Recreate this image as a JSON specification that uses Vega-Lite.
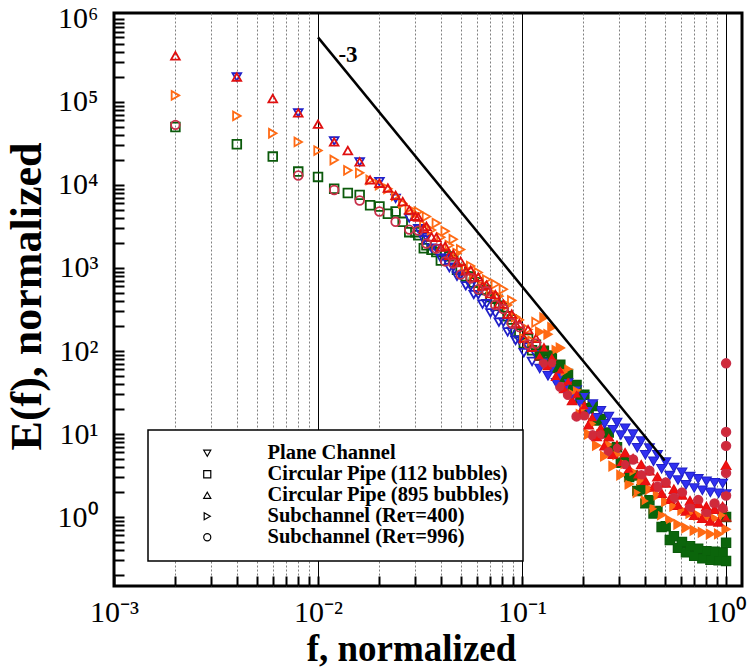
{
"$schema": "https://vega.github.io/schema/vega-lite/v6.json",
"width": 628, "height": 573,
"autosize": {"type": "none"},
"padding": {"left": 114, "top": 13, "right": 5, "bottom": 86},
"background": "white",
"config": {"view": {"stroke": "black", "strokeWidth": 3}, "legend": {"strokeWidth": 1.5}},
"datasets": {"pts": [
{"k":"CP1","f":0.002,"E":50000},{"k":"CP1","f":0.004,"E":31000},{"k":"CP1","f":0.006,"E":22000},{"k":"CP1","f":0.008,"E":14500},{"k":"CP1","f":0.01,"E":12500},{"k":"CP1","f":0.012,"E":9000},{"k":"CP1","f":0.014,"E":8000},{"k":"CP1","f":0.016,"E":7600},{"k":"CP1","f":0.018,"E":5700},{"k":"CP1","f":0.02,"E":5500},{"k":"CP1","f":0.022,"E":4500},{"k":"CP1","f":0.024,"E":4800},{"k":"CP1","f":0.026,"E":3600},{"k":"CP1","f":0.028,"E":2700},{"k":"CP1","f":0.03,"E":2700},
{"k":"CP1","f":0.031,"E":2480},{"k":"CP1","f":0.033,"E":1730},{"k":"CP1","f":0.034,"E":1880},{"k":"CP1","f":0.036,"E":1660},{"k":"CP1","f":0.038,"E":1560},{"k":"CP1","f":0.04,"E":1230},{"k":"CP1","f":0.042,"E":1440},{"k":"CP1","f":0.044,"E":1380},{"k":"CP1","f":0.046,"E":1250},{"k":"CP1","f":0.048,"E":952},{"k":"CP1","f":0.05,"E":971},{"k":"CP1","f":0.053,"E":792},{"k":"CP1","f":0.056,"E":788},{"k":"CP1","f":0.058,"E":668},{"k":"CP1","f":0.061,"E":669},{"k":"CP1","f":0.064,"E":546},{"k":"CP1","f":0.067,"E":542},{"k":"CP1","f":0.07,"E":446},{"k":"CP1","f":0.074,"E":427},{"k":"CP1","f":0.077,"E":350},{"k":"CP1","f":0.081,"E":336},{"k":"CP1","f":0.085,"E":262},{"k":"CP1","f":0.089,"E":240},{"k":"CP1","f":0.093,"E":170},{"k":"CP1","f":0.097,"E":163},
{"k":"CP1","f":0.102,"E":124},{"k":"CP1","f":0.107,"E":141},{"k":"CP1","f":0.112,"E":102},{"k":"CP1","f":0.117,"E":119},{"k":"CP1","f":0.122,"E":87.5},{"k":"CP1","f":0.128,"E":101},{"k":"CP1","f":0.134,"E":74.6},{"k":"CP1","f":0.14,"E":88.5},{"k":"CP1","f":0.147,"E":62.5},{"k":"CP1","f":0.154,"E":68.3},{"k":"CP1","f":0.161,"E":47.8},{"k":"CP1","f":0.168,"E":52.9},{"k":"CP1","f":0.176,"E":36.3},{"k":"CP1","f":0.185,"E":39.1},{"k":"CP1","f":0.193,"E":27.2},{"k":"CP1","f":0.202,"E":29.7},{"k":"CP1","f":0.212,"E":20.4},{"k":"CP1","f":0.222,"E":21.7},{"k":"CP1","f":0.232,"E":14.5},{"k":"CP1","f":0.243,"E":15.2},{"k":"CP1","f":0.254,"E":10.2},{"k":"CP1","f":0.266,"E":10.4},{"k":"CP1","f":0.279,"E":6.7},{"k":"CP1","f":0.292,"E":6.94},{"k":"CP1","f":0.305,"E":4.51},{"k":"CP1","f":0.32,"E":4.61},{"k":"CP1","f":0.335,"E":3.03},{"k":"CP1","f":0.35,"E":3.16},{"k":"CP1","f":0.367,"E":2.06},{"k":"CP1","f":0.384,"E":2.16},{"k":"CP1","f":0.402,"E":1.46},{"k":"CP1","f":0.421,"E":1.59},{"k":"CP1","f":0.441,"E":1.1},{"k":"CP1","f":0.461,"E":1.18},{"k":"CP1","f":0.483,"E":0.759},{"k":"CP1","f":0.506,"E":0.773},{"k":"CP1","f":0.53,"E":0.529},{"k":"CP1","f":0.555,"E":0.587},{"k":"CP1","f":0.581,"E":0.425},{"k":"CP1","f":0.608,"E":0.501},{"k":"CP1","f":0.636,"E":0.376},{"k":"CP1","f":0.666,"E":0.444},{"k":"CP1","f":0.698,"E":0.341},{"k":"CP1","f":0.73,"E":0.414},{"k":"CP1","f":0.765,"E":0.318},{"k":"CP1","f":0.801,"E":0.388},{"k":"CP1","f":0.838,"E":0.306},{"k":"CP1","f":0.878,"E":0.381},{"k":"CP1","f":0.919,"E":0.301},{"k":"CP1","f":0.962,"E":0.374},{"k":"CP1","f":1.0,"E":0.296},{"k":"CP1","f":1.0,"E":0.49},{"k":"CP1","f":1.0,"E":1.0},
{"k":"PC","f":0.004,"E":200000},{"k":"PC","f":0.008,"E":74000},{"k":"PC","f":0.012,"E":34000},{"k":"PC","f":0.016,"E":19000},{"k":"PC","f":0.02,"E":11000},{"k":"PC","f":0.024,"E":6900},{"k":"PC","f":0.028,"E":4000},
{"k":"PC","f":0.031,"E":2970},{"k":"PC","f":0.033,"E":2190},{"k":"PC","f":0.034,"E":2320},{"k":"PC","f":0.036,"E":1740},{"k":"PC","f":0.038,"E":1710},{"k":"PC","f":0.04,"E":1310},{"k":"PC","f":0.042,"E":1305},{"k":"PC","f":0.044,"E":1010},{"k":"PC","f":0.046,"E":1022},{"k":"PC","f":0.048,"E":797},{"k":"PC","f":0.05,"E":817},{"k":"PC","f":0.053,"E":610},{"k":"PC","f":0.056,"E":601},{"k":"PC","f":0.058,"E":479},{"k":"PC","f":0.061,"E":478},{"k":"PC","f":0.064,"E":367},{"k":"PC","f":0.067,"E":371},{"k":"PC","f":0.07,"E":288},{"k":"PC","f":0.074,"E":284},{"k":"PC","f":0.077,"E":223},{"k":"PC","f":0.081,"E":223},{"k":"PC","f":0.085,"E":170},{"k":"PC","f":0.089,"E":172},{"k":"PC","f":0.093,"E":134},{"k":"PC","f":0.097,"E":135},
{"k":"PC","f":0.102,"E":95.7},{"k":"PC","f":0.107,"E":111.6},{"k":"PC","f":0.112,"E":74.8},{"k":"PC","f":0.117,"E":89.7},{"k":"PC","f":0.122,"E":61.7},{"k":"PC","f":0.128,"E":73.6},{"k":"PC","f":0.134,"E":50.4},{"k":"PC","f":0.14,"E":61},{"k":"PC","f":0.147,"E":41.7},{"k":"PC","f":0.154,"E":49.5},{"k":"PC","f":0.161,"E":34.3},{"k":"PC","f":0.168,"E":41.4},{"k":"PC","f":0.176,"E":28.4},{"k":"PC","f":0.185,"E":33.9},{"k":"PC","f":0.193,"E":23.4},{"k":"PC","f":0.202,"E":28.2},{"k":"PC","f":0.212,"E":19.2},{"k":"PC","f":0.222,"E":23},{"k":"PC","f":0.232,"E":15.8},{"k":"PC","f":0.243,"E":19.1},{"k":"PC","f":0.254,"E":13.3},{"k":"PC","f":0.266,"E":16.3},{"k":"PC","f":0.279,"E":11.3},{"k":"PC","f":0.292,"E":13.8},{"k":"PC","f":0.305,"E":9.74},{"k":"PC","f":0.32,"E":11.8},{"k":"PC","f":0.335,"E":8.26},{"k":"PC","f":0.35,"E":10},{"k":"PC","f":0.367,"E":6.87},{"k":"PC","f":0.384,"E":8.28},{"k":"PC","f":0.402,"E":5.65},{"k":"PC","f":0.421,"E":6.79},{"k":"PC","f":0.441,"E":4.7},{"k":"PC","f":0.461,"E":5.64},{"k":"PC","f":0.483,"E":3.83},{"k":"PC","f":0.506,"E":4.6},{"k":"PC","f":0.53,"E":3.18},{"k":"PC","f":0.555,"E":3.96},{"k":"PC","f":0.581,"E":2.8},{"k":"PC","f":0.608,"E":3.47},{"k":"PC","f":0.636,"E":2.45},{"k":"PC","f":0.666,"E":3.08},{"k":"PC","f":0.698,"E":2.25},{"k":"PC","f":0.73,"E":2.89},{"k":"PC","f":0.765,"E":2.11},{"k":"PC","f":0.801,"E":2.7},{"k":"PC","f":0.838,"E":1.99},{"k":"PC","f":0.878,"E":2.6},{"k":"PC","f":0.919,"E":1.94},{"k":"PC","f":0.962,"E":2.54},{"k":"PC","f":1.0,"E":1.9},
{"k":"SC1","f":0.002,"E":120000},{"k":"SC1","f":0.004,"E":68000},{"k":"SC1","f":0.006,"E":42000},{"k":"SC1","f":0.008,"E":33000},{"k":"SC1","f":0.01,"E":26000},{"k":"SC1","f":0.012,"E":20000},{"k":"SC1","f":0.014,"E":15000},{"k":"SC1","f":0.016,"E":14000},{"k":"SC1","f":0.018,"E":11500},{"k":"SC1","f":0.02,"E":10000},{"k":"SC1","f":0.022,"E":9000},{"k":"SC1","f":0.024,"E":7400},{"k":"SC1","f":0.026,"E":6000},{"k":"SC1","f":0.028,"E":5200},{"k":"SC1","f":0.03,"E":4500},
{"k":"SC1","f":0.031,"E":4770},{"k":"SC1","f":0.033,"E":3290},{"k":"SC1","f":0.034,"E":4170},{"k":"SC1","f":0.036,"E":2870},{"k":"SC1","f":0.038,"E":3470},{"k":"SC1","f":0.04,"E":2340},{"k":"SC1","f":0.042,"E":2780},{"k":"SC1","f":0.044,"E":1880},{"k":"SC1","f":0.046,"E":2220},{"k":"SC1","f":0.048,"E":1510},{"k":"SC1","f":0.05,"E":1670},{"k":"SC1","f":0.053,"E":978},{"k":"SC1","f":0.056,"E":1056},{"k":"SC1","f":0.058,"E":743},{"k":"SC1","f":0.061,"E":884},{"k":"SC1","f":0.064,"E":604},{"k":"SC1","f":0.067,"E":726},{"k":"SC1","f":0.07,"E":518},{"k":"SC1","f":0.074,"E":638},{"k":"SC1","f":0.077,"E":458},{"k":"SC1","f":0.081,"E":555},{"k":"SC1","f":0.085,"E":358},{"k":"SC1","f":0.089,"E":407},{"k":"SC1","f":0.093,"E":256},{"k":"SC1","f":0.097,"E":237},
{"k":"SC1","f":0.102,"E":142},{"k":"SC1","f":0.107,"E":182},{"k":"SC1","f":0.112,"E":132},{"k":"SC1","f":0.117,"E":222},{"k":"SC1","f":0.122,"E":170},{"k":"SC1","f":0.128,"E":253},{"k":"SC1","f":0.134,"E":159},{"k":"SC1","f":0.14,"E":193},{"k":"SC1","f":0.147,"E":102},{"k":"SC1","f":0.154,"E":109},{"k":"SC1","f":0.161,"E":55.4},{"k":"SC1","f":0.168,"E":60},{"k":"SC1","f":0.176,"E":31.3},{"k":"SC1","f":0.185,"E":33.8},{"k":"SC1","f":0.193,"E":17.2},{"k":"SC1","f":0.202,"E":20.5},{"k":"SC1","f":0.212,"E":10},{"k":"SC1","f":0.222,"E":13.4},{"k":"SC1","f":0.232,"E":7.28},{"k":"SC1","f":0.243,"E":9.75},{"k":"SC1","f":0.254,"E":5.41},{"k":"SC1","f":0.266,"E":7.38},{"k":"SC1","f":0.279,"E":4.1},{"k":"SC1","f":0.292,"E":5.65},{"k":"SC1","f":0.305,"E":3.2},{"k":"SC1","f":0.32,"E":4.4},{"k":"SC1","f":0.335,"E":2.5},{"k":"SC1","f":0.35,"E":3.49},{"k":"SC1","f":0.367,"E":1.97},{"k":"SC1","f":0.384,"E":2.75},{"k":"SC1","f":0.402,"E":1.56},{"k":"SC1","f":0.421,"E":2.16},{"k":"SC1","f":0.441,"E":1.26},{"k":"SC1","f":0.461,"E":1.83},{"k":"SC1","f":0.483,"E":1.06},{"k":"SC1","f":0.506,"E":1.53},{"k":"SC1","f":0.53,"E":0.92},{"k":"SC1","f":0.555,"E":1.35},{"k":"SC1","f":0.581,"E":0.816},{"k":"SC1","f":0.608,"E":1.21},{"k":"SC1","f":0.636,"E":0.742},{"k":"SC1","f":0.666,"E":1.11},{"k":"SC1","f":0.698,"E":0.69},{"k":"SC1","f":0.73,"E":1.05},{"k":"SC1","f":0.765,"E":0.654},{"k":"SC1","f":0.801,"E":0.993},{"k":"SC1","f":0.838,"E":0.624},{"k":"SC1","f":0.878,"E":0.958},{"k":"SC1","f":0.919,"E":0.626},{"k":"SC1","f":0.962,"E":1.05},{"k":"SC1","f":1.0,"E":0.713},
{"k":"CP2","f":0.002,"E":360000},{"k":"CP2","f":0.004,"E":200000},{"k":"CP2","f":0.006,"E":110000},{"k":"CP2","f":0.008,"E":74000},{"k":"CP2","f":0.01,"E":54000},{"k":"CP2","f":0.012,"E":33000},{"k":"CP2","f":0.014,"E":26000},{"k":"CP2","f":0.016,"E":19000},{"k":"CP2","f":0.018,"E":11500},{"k":"CP2","f":0.02,"E":10500},{"k":"CP2","f":0.022,"E":9200},{"k":"CP2","f":0.024,"E":7500},{"k":"CP2","f":0.026,"E":6300},{"k":"CP2","f":0.028,"E":5000},{"k":"CP2","f":0.03,"E":4200},
{"k":"CP2","f":0.031,"E":4090},{"k":"CP2","f":0.033,"E":3000},{"k":"CP2","f":0.034,"E":3180},{"k":"CP2","f":0.036,"E":2370},{"k":"CP2","f":0.038,"E":2340},{"k":"CP2","f":0.04,"E":1780},{"k":"CP2","f":0.042,"E":1820},{"k":"CP2","f":0.044,"E":1425},{"k":"CP2","f":0.046,"E":1460},{"k":"CP2","f":0.048,"E":1160},{"k":"CP2","f":0.05,"E":1200},{"k":"CP2","f":0.053,"E":926},{"k":"CP2","f":0.056,"E":943},{"k":"CP2","f":0.058,"E":764},{"k":"CP2","f":0.061,"E":780},{"k":"CP2","f":0.064,"E":607},{"k":"CP2","f":0.067,"E":623},{"k":"CP2","f":0.07,"E":491},{"k":"CP2","f":0.074,"E":478},{"k":"CP2","f":0.077,"E":372},{"k":"CP2","f":0.081,"E":367},{"k":"CP2","f":0.085,"E":279},{"k":"CP2","f":0.089,"E":278},{"k":"CP2","f":0.093,"E":213},{"k":"CP2","f":0.097,"E":214},
{"k":"CP2","f":0.102,"E":143},{"k":"CP2","f":0.107,"E":181},{"k":"CP2","f":0.112,"E":111},{"k":"CP2","f":0.117,"E":142},{"k":"CP2","f":0.122,"E":87.5},{"k":"CP2","f":0.128,"E":109},{"k":"CP2","f":0.134,"E":66.7},{"k":"CP2","f":0.14,"E":85},{"k":"CP2","f":0.147,"E":49.4},{"k":"CP2","f":0.154,"E":59.4},{"k":"CP2","f":0.161,"E":35.2},{"k":"CP2","f":0.168,"E":43.3},{"k":"CP2","f":0.176,"E":25.3},{"k":"CP2","f":0.185,"E":30.4},{"k":"CP2","f":0.193,"E":17.9},{"k":"CP2","f":0.202,"E":22},{"k":"CP2","f":0.212,"E":12.9},{"k":"CP2","f":0.222,"E":15.8},{"k":"CP2","f":0.232,"E":9.33},{"k":"CP2","f":0.243,"E":11.6},{"k":"CP2","f":0.254,"E":7.21},{"k":"CP2","f":0.266,"E":9.25},{"k":"CP2","f":0.279,"E":5.68},{"k":"CP2","f":0.292,"E":7.33},{"k":"CP2","f":0.305,"E":4.56},{"k":"CP2","f":0.32,"E":5.94},{"k":"CP2","f":0.335,"E":3.79},{"k":"CP2","f":0.35,"E":5.05},{"k":"CP2","f":0.367,"E":3.21},{"k":"CP2","f":0.384,"E":4.27},{"k":"CP2","f":0.402,"E":2.73},{"k":"CP2","f":0.421,"E":3.61},{"k":"CP2","f":0.441,"E":2.3},{"k":"CP2","f":0.461,"E":3.04},{"k":"CP2","f":0.483,"E":1.93},{"k":"CP2","f":0.506,"E":2.56},{"k":"CP2","f":0.53,"E":1.63},{"k":"CP2","f":0.555,"E":2.16},{"k":"CP2","f":0.581,"E":1.38},{"k":"CP2","f":0.608,"E":1.84},{"k":"CP2","f":0.636,"E":1.18},{"k":"CP2","f":0.666,"E":1.57},{"k":"CP2","f":0.698,"E":1.05},{"k":"CP2","f":0.73,"E":1.45},{"k":"CP2","f":0.765,"E":0.967},{"k":"CP2","f":0.801,"E":1.34},{"k":"CP2","f":0.838,"E":0.892},{"k":"CP2","f":0.878,"E":1.24},{"k":"CP2","f":0.919,"E":0.867},{"k":"CP2","f":0.962,"E":1.34},{"k":"CP2","f":1.0,"E":1.0},{"k":"CP2","f":1.0,"E":4.2},
{"k":"SC2","f":0.002,"E":53000},{"k":"SC2","f":0.008,"E":13000},{"k":"SC2","f":0.012,"E":8700},{"k":"SC2","f":0.016,"E":6500},{"k":"SC2","f":0.02,"E":4800},{"k":"SC2","f":0.024,"E":3600},{"k":"SC2","f":0.028,"E":2900},
{"k":"SC2","f":0.031,"E":2820},{"k":"SC2","f":0.034,"E":1970},{"k":"SC2","f":0.038,"E":1710},{"k":"SC2","f":0.042,"E":1200},{"k":"SC2","f":0.046,"E":1130},{"k":"SC2","f":0.05,"E":833},{"k":"SC2","f":0.056,"E":758},{"k":"SC2","f":0.061,"E":555},{"k":"SC2","f":0.067,"E":524},{"k":"SC2","f":0.074,"E":359},{"k":"SC2","f":0.081,"E":321},{"k":"SC2","f":0.089,"E":216},{"k":"SC2","f":0.097,"E":194},{"k":"SC2","f":0.107,"E":120},{"k":"SC2","f":0.117,"E":123},{"k":"SC2","f":0.128,"E":71.1},{"k":"SC2","f":0.14,"E":71.2},{"k":"SC2","f":0.154,"E":37},{"k":"SC2","f":0.168,"E":29.7},{"k":"SC2","f":0.185,"E":16.3},{"k":"SC2","f":0.202,"E":16.8},{"k":"SC2","f":0.222,"E":9.65},{"k":"SC2","f":0.243,"E":9.95},{"k":"SC2","f":0.266,"E":6.23},{"k":"SC2","f":0.292,"E":6.79},{"k":"SC2","f":0.32,"E":4.34},{"k":"SC2","f":0.35,"E":4.93},{"k":"SC2","f":0.384,"E":3.19},{"k":"SC2","f":0.421,"E":3.62},{"k":"SC2","f":0.461,"E":2.32},{"k":"SC2","f":0.506,"E":2.6},{"k":"SC2","f":0.555,"E":1.7},{"k":"SC2","f":0.608,"E":1.97},{"k":"SC2","f":0.666,"E":1.3},{"k":"SC2","f":0.73,"E":1.6},{"k":"SC2","f":0.801,"E":1.12},{"k":"SC2","f":0.878,"E":1.46},{"k":"SC2","f":0.962,"E":1.27},{"k":"SC2","f":1.0,"E":1.82},{"k":"SC2","f":1.0,"E":3.4},{"k":"SC2","f":1.0,"E":7.2},{"k":"SC2","f":1.0,"E":10.6},{"k":"SC2","f":1.0,"E":71}
]},
"encoding": {
 "x": {"field": "f", "type": "quantitative",
  "scale": {"type": "log", "domain": [0.001, 1.197], "nice": false},
  "axis": {"title": "f, normalized", "offset": -10, "domain": false,
   "values": [0.001,0.002,0.003,0.004,0.005,0.006,0.007,0.008,0.009,0.01,0.02,0.03,0.04,0.05,0.06,0.07,0.08,0.09,0.1,0.2,0.3,0.4,0.5,0.6,0.7,0.8,0.9,1],
   "labelExpr": "abs(log(datum.value)/LN10 - round(log(datum.value)/LN10)) < 0.001 ? '10' + ['⁻³','⁻²','⁻¹','⁰'][round(log(datum.value)/LN10) + 3] : ''",
   "labelFont": "Liberation Serif", "labelFontSize": 30, "labelColor": "black", "labelPadding": 11, "labelOverlap": false, "labelFlush": false,
   "ticks": true, "tickColor": "black", "tickSize": 10, "tickWidth": 2, "tickOpacity": 1,
   "grid": true, "gridWidth": 1,
   "gridColor": {"condition": {"test": "abs(log(datum.value)/LN10 - round(log(datum.value)/LN10)) < 0.001", "value": "black"}, "value": "#808080"},
   "gridDash": {"condition": {"test": "abs(log(datum.value)/LN10 - round(log(datum.value)/LN10)) < 0.001", "value": []}, "value": [2, 2]},
   "titleFont": "Liberation Serif", "titleFontSize": 37, "titleFontWeight": "bold", "titleColor": "black",
   "titleX": 297, "titleY": 84, "titleBaseline": "alphabetic", "titleAlign": "center"}},
 "y": {"field": "E", "type": "quantitative",
  "scale": {"type": "log", "domain": [0.1476, 1180000], "nice": false},
  "axis": {"title": "E(f), normalized", "offset": -10, "domain": false,
   "values": [0.2,0.3,0.4,0.5,0.6,0.7,0.8,0.9,1,2,3,4,5,6,7,8,9,10,20,30,40,50,60,70,80,90,100,200,300,400,500,600,700,800,900,1000,2000,3000,4000,5000,6000,7000,8000,9000,10000,20000,30000,40000,50000,60000,70000,80000,90000,100000,200000,300000,400000,500000,600000,700000,800000,900000,1000000],
   "labelExpr": "abs(log(datum.value)/LN10 - round(log(datum.value)/LN10)) < 0.001 ? '10' + ['⁰','¹','²','³','⁴','⁵','⁶'][round(log(datum.value)/LN10)] : ''",
   "labelFont": "Liberation Serif", "labelFontSize": 30, "labelColor": "black", "labelPadding": 16, "labelOverlap": false, "labelFlush": false,
   "ticks": true, "tickColor": "black", "tickSize": 10, "tickWidth": 2, "tickOpacity": 1,
   "grid": false,
   "titleFont": "Liberation Serif", "titleFontSize": 44, "titleFontWeight": "bold", "titleColor": "black",
   "titleX": -84, "titleY": 283, "titleAngle": -90, "titleBaseline": "alphabetic", "titleAlign": "center"}}
},
"layer": [
 {"data": {"name": "pts"},
  "mark": {"type": "point", "filled": false, "size": 75, "strokeWidth": 1.8, "opacity": 1},
  "encoding": {
   "shape": {"field": "k", "type": "nominal",
    "scale": {"domain": ["PC","CP1","CP2","SC1","SC2"], "range": ["triangle-down","square","triangle-up","triangle-right","circle"]},
    "legend": {"title": null, "orient": "none", "legendX": 34, "legendY": 417,
     "padding": 13, "strokeColor": "black", "fillColor": "white",
     "symbolOffset": 36, "labelOffset": 50, "rowPadding": 0, "symbolSize": 50, "symbolStrokeWidth": 1.2, "labelLimit": 400,
     "labelFont": "Liberation Serif", "labelFontSize": 20.5, "labelFontWeight": "bold", "labelColor": "black",
     "labelExpr": "datum.label == 'PC' ? 'Plane Channel' : datum.label == 'CP1' ? 'Circular Pipe (112 bubbles)' : datum.label == 'CP2' ? 'Circular Pipe (895 bubbles)' : datum.label == 'SC1' ? 'Subchannel (Reτ=400)' : 'Subchannel (Reτ=996)'"}},
   "color": {"condition": [
     {"test": "datum.k == 'PC'", "value": "#2020c8"},
     {"test": "datum.k == 'CP1'", "value": "#0b5a0b"},
     {"test": "datum.k == 'CP2'", "value": "#e01010"},
     {"test": "datum.k == 'SC1'", "value": "#ff6a14"},
     {"test": "datum.k == 'SC2'", "value": "#c8304a"}], "value": "black"}
  }},
 {"data": {"name": "pts"},
  "transform": [{"filter": "datum.f > 0.12"}],
  "mark": {"type": "point", "filled": true, "size": 70, "opacity": 1},
  "encoding": {
   "shape": {"condition": [
     {"test": "datum.k == 'PC'", "value": "triangle-down"},
     {"test": "datum.k == 'CP1'", "value": "square"},
     {"test": "datum.k == 'CP2'", "value": "triangle-up"},
     {"test": "datum.k == 'SC1'", "value": "triangle-right"}], "value": "circle"},
   "color": {"condition": [
     {"test": "datum.k == 'PC'", "value": "#3030f0"},
     {"test": "datum.k == 'CP1'", "value": "#0b650b"},
     {"test": "datum.k == 'CP2'", "value": "#f01010"},
     {"test": "datum.k == 'SC1'", "value": "#ff6a14"},
     {"test": "datum.k == 'SC2'", "value": "#d02a3a"}], "value": "black"}
  }},
 {"data": {"values": [{"f": 0.01, "E": 600000}, {"f": 0.5, "E": 4.8}]},
  "mark": {"type": "line", "color": "black", "strokeWidth": 2.5}, "encoding": {}},
 {"data": {"values": [{"f": 0.01403, "E": 368000, "t": "-3"}]},
  "mark": {"type": "text", "font": "Liberation Serif", "fontSize": 23, "fontWeight": "bold", "color": "black", "align": "center", "baseline": "middle"},
  "encoding": {"text": {"field": "t"}}}
]
}
